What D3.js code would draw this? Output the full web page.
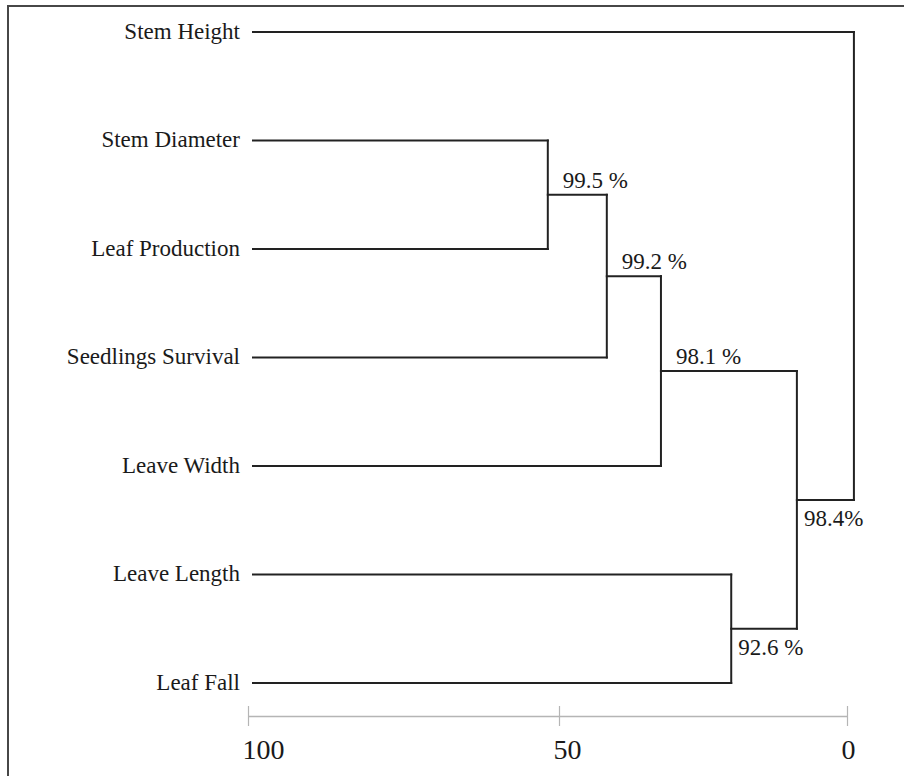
<!DOCTYPE html>
<html>
<head>
<meta charset="utf-8">
<script src="https://cdn.jsdelivr.net/npm/d3@7"></script>
<style>
  body { margin: 0; background: #fff; }
  svg { display: block; }
  text { font-family: "Liberation Serif", "Times New Roman", serif; fill: #1a1a1a; }
</style>
</head>
<body>
<svg id="chart" width="904" height="776"></svg>
<script>
// Traits, in the order they appear from top to bottom
const traits = ["Stem Height", "Stem Diameter", "Leaf Production", "Seedlings Survival",
                "Leave Width", "Leave Length", "Leaf Fall"];

// Cluster joins: id, the two members, level on the 100–0 scale, support of the branch above it
const joinIds      = ["j1", "j2", "j3", "j4", "j5", "j6"];
const joinFirst    = ["Stem Diameter", "j1", "j2", "Leave Length", "j3", "Stem Height"];
const joinSecond   = ["Leaf Production", "Seedlings Survival", "Leave Width", "Leaf Fall", "j4", "j5"];
const joinLevel    = [51.8, 41.7, 32.3, 20.1, 8.7, -1.2];
const joinSupport  = ["99.5 %", "99.2 %", "98.1 %", "92.6 %", "98.4%", null];

// Scale ticks
const scaleTicks = [100, 50, 0];

const svg = d3.select("#chart");

// Outer frame
svg.append("rect")
  .attr("x", 8).attr("y", 6)
  .attr("width", 940).attr("height", 820)
  .attr("fill", "none")
  .attr("stroke", "#474747")
  .attr("stroke-width", 2);

// Horizontal similarity scale and vertical row positions
const x = d3.scaleLinear().domain(scaleTicks).range([248, 559, 847]);
const row = d3.scalePoint().domain(traits).range([32, 683]);

// Build the tree from the join arrays
const nodes = new Map();
traits.forEach(t => nodes.set(t, { name: t, level: 100, children: null }));
joinIds.forEach((id, i) => {
  nodes.set(id, {
    name: id,
    level: joinLevel[i],
    support: joinSupport[i],
    children: [nodes.get(joinFirst[i]), nodes.get(joinSecond[i])]
  });
});
const root = d3.hierarchy(nodes.get(joinIds[joinIds.length - 1]));

// Positions: leaves on their rows, joins midway between their members
const leafStart = x(100) + 5;
root.eachAfter(n => {
  if (n.children) {
    n.py = d3.mean(n.children, c => c.py);
    n.px = x(n.data.level);
  } else {
    n.py = row(n.data.name);
    n.px = leafStart;
  }
});

const links = svg.append("g")
  .attr("fill", "none")
  .attr("stroke", "#222")
  .attr("stroke-width", 2)
  .attr("stroke-linecap", "square");

// Elbow connectors: a vertical bar at each join, horizontal arms to its members
root.descendants().filter(n => n.children).forEach(n => {
  const ys = n.children.map(c => c.py);
  links.append("line")
    .attr("x1", n.px).attr("x2", n.px)
    .attr("y1", d3.min(ys)).attr("y2", d3.max(ys));
  n.children.forEach(c => {
    links.append("line")
      .attr("x1", c.px).attr("x2", n.px)
      .attr("y1", c.py).attr("y2", c.py);
  });
});

// Trait labels
svg.append("g").selectAll("text")
  .data(root.leaves())
  .join("text")
  .attr("x", d => d.px - 13)
  .attr("y", d => d.py)
  .attr("dy", "0.3em")
  .attr("text-anchor", "end")
  .attr("font-size", 23)
  .text(d => d.data.name);

// Branch support labels: above the branch for the upper member, below for the lower one
svg.append("g").selectAll("text")
  .data(root.descendants().filter(n => n.children && n.data.support))
  .join("text")
  .attr("x", d => d.px + (d.parent.children[0] === d ? 15 : 7))
  .attr("y", d => d.py + (d.parent.children[0] === d ? -7 : 26))
  .attr("font-size", 23)
  .text(d => d.data.support);

// Scale bar
const axis = d3.axisBottom(x)
  .tickValues(scaleTicks)
  .tickFormat(d3.format("d"))
  .tickSizeOuter(0)
  .tickSizeInner(10);

const ag = svg.append("g")
  .attr("transform", "translate(0,716)")
  .call(axis);

ag.select(".domain")
  .attr("stroke", "#b5b5b5")
  .attr("stroke-width", 1.5);
ag.selectAll(".tick line")
  .attr("stroke", "#b5b5b5")
  .attr("stroke-width", 1.2)
  .attr("y1", -10)
  .attr("y2", 10);
ag.selectAll(".tick text")
  .attr("x", -6)
  .attr("y", 43)
  .attr("dy", null)
  .attr("text-anchor", "start")
  .attr("font-size", 28)
  .attr("font-family", "'Liberation Serif', serif")
  .attr("fill", "#1a1a1a");
</script>
</body>
</html>
